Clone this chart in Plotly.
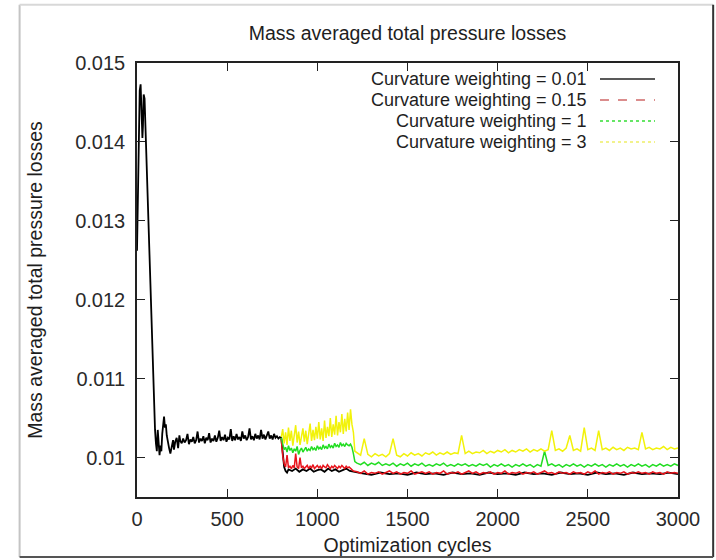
import plotly.graph_objects as go

# ---------------- data ----------------
# Curvature weighting = 0.01 (black): common start-up phase 0..800
black_x_start = [0, 5, 10, 15, 20, 25, 30, 33, 37, 42, 48, 55, 62, 70, 78, 85, 92, 100,
                 105, 110, 115, 120, 125, 130, 135, 140, 145, 150, 155, 160, 165, 170,
                 178, 185, 192, 200, 205, 212, 220, 228, 235]
black_y_start = [0.01262, 0.01350, 0.01420, 0.01465, 0.01473, 0.01440, 0.01405, 0.01420,
                 0.01460, 0.01455, 0.01410, 0.01360, 0.01300, 0.01240, 0.01180, 0.01120,
                 0.01070, 0.01035, 0.01018, 0.01008, 0.01035, 0.01012, 0.01003, 0.01015,
                 0.01008, 0.01030, 0.01045, 0.01052, 0.01038, 0.01042, 0.01028, 0.01020,
                 0.01012, 0.01005, 0.01015, 0.01022, 0.01010, 0.01020, 0.01025, 0.01012,
                 0.01028]
black_x_mid = list(range(240, 801, 8))
black_y_mid = [0.01021, 0.01018, 0.01024, 0.01019, 0.01022, 0.01030, 0.01017, 0.01023,
               0.01020, 0.01026, 0.01018, 0.01022, 0.01033, 0.01019, 0.01024, 0.01021,
               0.01027, 0.01018, 0.01025, 0.01022, 0.01031, 0.01019, 0.01024, 0.01021,
               0.01028, 0.01020, 0.01025, 0.01034, 0.01021, 0.01026, 0.01022, 0.01029,
               0.01020, 0.01025, 0.01023, 0.01036, 0.01021, 0.01027, 0.01022, 0.01030,
               0.01023, 0.01026, 0.01021, 0.01033, 0.01024, 0.01028, 0.01022, 0.01026,
               0.01037, 0.01023, 0.01027, 0.01022, 0.01030, 0.01024, 0.01028, 0.01023,
               0.01035, 0.01024, 0.01029, 0.01023, 0.01027, 0.01033, 0.01024, 0.01028,
               0.01023, 0.01030, 0.01025, 0.01027, 0.01024, 0.01026, 0.01025]
black_x_end = [808, 816, 824, 832, 840] + list(range(860, 1201, 20)) + list(range(1250, 3001, 50))
black_y_end = [0.01000, 0.00988, 0.00983, 0.00981, 0.00985,
               0.00983, 0.00986, 0.00982, 0.00985, 0.00983, 0.00986, 0.00982, 0.00984,
               0.00985, 0.00982, 0.00986, 0.00983, 0.00985, 0.00982, 0.00984, 0.00986,
               0.00983, 0.00982,
               0.00980, 0.00978, 0.00981, 0.00979, 0.00980, 0.00978, 0.00981, 0.00979,
               0.00980, 0.00978, 0.00981, 0.00979, 0.00980, 0.00978, 0.00981, 0.00979,
               0.00980, 0.00978, 0.00981, 0.00979, 0.00980, 0.00978, 0.00981, 0.00979,
               0.00980, 0.00978, 0.00981, 0.00979, 0.00980, 0.00978, 0.00981, 0.00979,
               0.00980, 0.00979, 0.00981, 0.00979]

# Curvature weighting = 0.15 (red)
red_x = list(range(800, 1201, 8)) + list(range(1220, 3001, 20))
red_y = [
    # 800 .. 1200, every 8 cycles
    0.01024, 0.01002, 0.00992, 0.00988, 0.01003, 0.00987, 0.00989, 0.00986, 0.00990, 0.00987,
    0.01005, 0.00988, 0.00986, 0.01000, 0.00987, 0.00989, 0.00986, 0.00988, 0.00990, 0.00986,
    0.00989, 0.00987, 0.00991, 0.00986, 0.00988, 0.00990, 0.00987, 0.00989, 0.00986, 0.00990,
    0.00988, 0.00987, 0.00991, 0.00988, 0.00986, 0.00989, 0.00987, 0.00990, 0.00988, 0.00986,
    0.00989, 0.00987, 0.00990, 0.00988, 0.00986, 0.00989, 0.00987, 0.00988, 0.00986, 0.00985,
    0.00983,
    # 1220 .. 3000, every 20 cycles
    0.00982, 0.00980, 0.00983, 0.00979, 0.00981, 0.00980, 0.00982, 0.00979, 0.00981, 0.00983,
    0.00980, 0.00982, 0.00979, 0.00981, 0.00980, 0.00983, 0.00979, 0.00981, 0.00982, 0.00980,
    0.00982, 0.00979, 0.00981, 0.00980, 0.00983, 0.00979, 0.00981, 0.00980, 0.00982, 0.00979,
    0.00981, 0.00983, 0.00980, 0.00982, 0.00979, 0.00981, 0.00980, 0.00982, 0.00979, 0.00981,
    0.00980, 0.00983, 0.00979, 0.00981, 0.00980, 0.00982, 0.00979, 0.00981, 0.00980, 0.00982,
    0.00979, 0.00981, 0.00983, 0.00980, 0.00981, 0.00979, 0.00982, 0.00980, 0.00981, 0.00979,
    0.00982, 0.00980, 0.00981, 0.00979, 0.00982, 0.00980, 0.00983, 0.00979, 0.00981, 0.00980,
    0.00982, 0.00979, 0.00981, 0.00980, 0.00982, 0.00979, 0.00981, 0.00980, 0.00982, 0.00980,
    0.00981, 0.00979, 0.00982, 0.00980, 0.00981, 0.00979, 0.00982, 0.00980, 0.00981, 0.00980,
]

# Curvature weighting = 1 (green)
green_x = list(range(800, 1201, 8)) + [1208] + list(range(1220, 3001, 20))
green_y = [
    0.01025, 0.01018, 0.01010, 0.01013, 0.01007, 0.01015, 0.01009, 0.01012, 0.01006, 0.01011,
    0.01008, 0.01014, 0.01004, 0.01009, 0.01012, 0.01007, 0.01010, 0.01013, 0.01008, 0.01011,
    0.01009, 0.01014, 0.01010, 0.01012, 0.01009, 0.01015, 0.01011, 0.01013, 0.01010, 0.01016,
    0.01012, 0.01014, 0.01011, 0.01017, 0.01013, 0.01015, 0.01012, 0.01018, 0.01014, 0.01016,
    0.01013, 0.01019, 0.01015, 0.01017, 0.01014, 0.01018, 0.01016, 0.01015, 0.01017, 0.01013,
    0.01005,
    0.00995,
    0.00993, 0.00991, 0.00994, 0.00990, 0.00993, 0.00991, 0.00994, 0.00990, 0.00992, 0.00990,
    0.00993, 0.00989, 0.00992, 0.00990, 0.00993, 0.00989, 0.00992, 0.00990, 0.00993, 0.00989,
    0.00991, 0.00989, 0.00992, 0.00990, 0.00993, 0.00989, 0.00991, 0.00989, 0.00992, 0.00990,
    0.00992, 0.00989, 0.00991, 0.00989, 0.00992, 0.00990, 0.00992, 0.00988, 0.00991, 0.00989,
    0.00992, 0.00989, 0.00991, 0.00988, 0.00991, 0.00989, 0.00992, 0.00989, 0.00991, 0.00988,
    0.00991, 0.00989, 0.01008, 0.00990, 0.00992, 0.00989, 0.00991, 0.00988, 0.00991, 0.00989,
    0.00992, 0.00989, 0.00991, 0.00988, 0.00991, 0.00989, 0.00992, 0.00989, 0.00991, 0.00988,
    0.00991, 0.00989, 0.00992, 0.00989, 0.00991, 0.00988, 0.00991, 0.00989, 0.00992, 0.00989,
    0.00991, 0.00988, 0.00991, 0.00989, 0.00992, 0.00989, 0.00991, 0.00989, 0.00992, 0.00990,
]

# Curvature weighting = 3 (yellow)
yellow_x = list(range(800, 1201, 8)) + [1208] + list(range(1220, 3001, 20))
yellow_y = [
    0.01026, 0.01036, 0.01018, 0.01032, 0.01016, 0.01038, 0.01021, 0.01034, 0.01015, 0.01029,
    0.01041, 0.01019, 0.01033, 0.01016, 0.01030, 0.01037, 0.01020, 0.01034, 0.01017, 0.01032,
    0.01043, 0.01021, 0.01035, 0.01022, 0.01039, 0.01024, 0.01045, 0.01023, 0.01037, 0.01021,
    0.01047, 0.01025, 0.01039, 0.01027, 0.01050, 0.01026, 0.01042, 0.01029, 0.01053, 0.01028,
    0.01045, 0.01032, 0.01055, 0.01030, 0.01049, 0.01033, 0.01057, 0.01035, 0.01061, 0.01042,
    0.01032,
    0.01008,
    0.01006, 0.01003, 0.01024, 0.01004, 0.01001, 0.01005, 0.01002, 0.01004, 0.01001, 0.01005,
    0.01024, 0.01003, 0.01001, 0.01005, 0.01002, 0.01006, 0.01003, 0.01005, 0.01002, 0.01006,
    0.01004, 0.01007, 0.01003, 0.01006, 0.01004, 0.01007, 0.01004, 0.01006, 0.01005, 0.01028,
    0.01005, 0.01008, 0.01005, 0.01007, 0.01006, 0.01009, 0.01005, 0.01008, 0.01006, 0.01009,
    0.01007, 0.01010, 0.01006, 0.01009, 0.01007, 0.01010, 0.01008, 0.01011, 0.01007, 0.01010,
    0.01008, 0.01011, 0.01008, 0.01010, 0.01034, 0.01009, 0.01011, 0.01008, 0.01012, 0.01028,
    0.01009, 0.01011, 0.01008, 0.01038, 0.01010, 0.01012, 0.01009, 0.01034, 0.01010, 0.01012,
    0.01009, 0.01013, 0.01010, 0.01012, 0.01009, 0.01013, 0.01011, 0.01012, 0.01010, 0.01032,
    0.01011, 0.01013, 0.01010, 0.01012, 0.01011, 0.01014, 0.01010, 0.01013, 0.01011, 0.01012,
]

series_names = ["Curvature weighting = 0.01", "Curvature weighting = 0.15",
                "Curvature weighting = 1", "Curvature weighting = 3"]
series_colors = ["#000000", "#e8141c", "#22dd22", "#f2f20a"]
legend_colors = ["#222222", "#d06868", "#33dd33", "#eeee66"]
legend_dash = ["solid", "dash", "dot", "dot"]

x_ticks = [0, 500, 1000, 1500, 2000, 2500, 3000]
y_ticks = [0.01, 0.011, 0.012, 0.013, 0.014, 0.015]
y_tick_text = ["0.01", "0.011", "0.012", "0.013", "0.014", "0.015"]

assert len(black_x_mid) == len(black_y_mid)
assert len(black_x_end) == len(black_y_end)
assert len(red_x) == len(red_y), (len(red_x), len(red_y))
assert len(green_x) == len(green_y), (len(green_x), len(green_y))
assert len(yellow_x) == len(yellow_y), (len(yellow_x), len(yellow_y))

black_x = black_x_start + black_x_mid + black_x_end
black_y = black_y_start + black_y_mid + black_y_end

# ---------------- figure ----------------
FONT = "Liberation Sans, Arial, Helvetica, sans-serif"
TXT = "#1e1e1e"
fig = go.Figure()
for xs, ys, name, col, w in [
    (black_x, black_y, series_names[0], series_colors[0], 1.8),
    (red_x, red_y, series_names[1], series_colors[1], 1.5),
    (green_x, green_y, series_names[2], series_colors[2], 1.5),
    (yellow_x, yellow_y, series_names[3], series_colors[3], 1.5),
]:
    fig.add_trace(go.Scatter(x=xs, y=ys, mode="lines", name=name,
                             line=dict(color=col, width=w), showlegend=False))

# gnuplot-style key (text right-aligned, sample to the right)
row_y = [0.9631, 0.9147, 0.8664, 0.8180]
for name, col, dash, yy in zip(series_names, legend_colors, legend_dash, row_y):
    fig.add_annotation(x=0.8336, y=yy, xref="paper", yref="paper", text=name,
                       showarrow=False, xanchor="right", yanchor="middle", borderpad=0,
                       font=dict(family=FONT, size=18, color=TXT))
    fig.add_shape(type="line", xref="paper", yref="paper", x0=0.8558, x1=0.9575,
                  y0=yy, y1=yy, line=dict(color=col, width=1.6, dash=dash))

# window-like frame around the picture
fig.add_shape(type="line", xref="paper", yref="paper", x0=-0.217, x1=-0.217, y0=-0.138, y1=1.134,
              line=dict(color="#c4c4c4", width=2))
fig.add_shape(type="line", xref="paper", yref="paper", x0=-0.217, x1=1.065, y0=1.134, y1=1.134,
              line=dict(color="#d8d8d8", width=2))
fig.add_shape(type="line", xref="paper", yref="paper", x0=1.065, x1=1.065, y0=-0.138, y1=1.134,
              line=dict(color="#333333", width=2))
fig.add_shape(type="line", xref="paper", yref="paper", x0=-0.217, x1=1.065, y0=-0.138, y1=-0.138,
              line=dict(color="#555555", width=2))

axis_common = dict(showgrid=False, zeroline=False, showline=True, linecolor="#222222",
                   linewidth=1.6, mirror="ticks", ticks="inside", ticklen=8,
                   tickwidth=1.3, tickcolor="#222222", automargin=False,
                   tickfont=dict(family=FONT, size=20, color="#2a2a2a"))

fig.update_layout(
    width=716, height=560,
    margin=dict(l=137, r=38, t=63, b=63, autoexpand=False),
    paper_bgcolor="white", plot_bgcolor="white",
    title=dict(text="Mass averaged total pressure losses", x=0.5, xref="paper",
               y=1 - 33 / 560, yref="container", xanchor="center", yanchor="middle",
               font=dict(family=FONT, size=19.5, color=TXT)),
    xaxis=dict(range=[0, 3000], tickvals=x_ticks, ticklabelstandoff=3, **axis_common,
               title=dict(text="Optimization cycles", standoff=10,
                          font=dict(family=FONT, size=19.5, color=TXT))),
    yaxis=dict(range=[0.0095, 0.015], tickvals=y_ticks, ticktext=y_tick_text,
               ticklabelstandoff=6, **axis_common,
               title=dict(text="Mass averaged total pressure losses", standoff=27,
                          font=dict(family=FONT, size=19.5, color=TXT))),
)

fig.write_html("out.html")
